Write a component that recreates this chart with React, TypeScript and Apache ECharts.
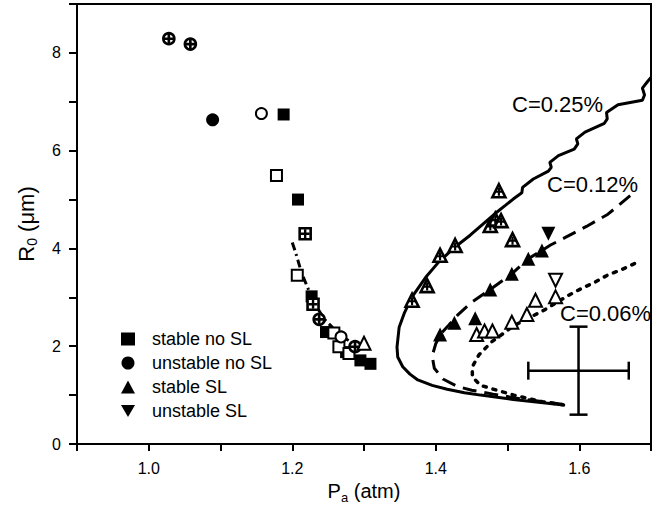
import React, { useEffect, useRef } from "react";
import * as echarts from "echarts";

// ---- data ----
const stableNoSL = [[1.188, 6.74], [1.208, 5.0], [1.227, 3.02], [1.247, 2.29], [1.275, 1.88], [1.295, 1.71], [1.309, 1.64]];
const stableNoSLOpen = [[1.178, 5.49], [1.207, 3.45], [1.258, 2.27], [1.265, 1.99], [1.279, 1.85]];
const stableNoSLCross = [[1.218, 4.3], [1.229, 2.86]];
const unstableNoSL = [[1.089, 6.63]];
const unstableNoSLOpen = [[1.157, 6.76], [1.268, 2.19]];
const unstableNoSLCross = [[1.028, 8.29], [1.058, 8.18], [1.2375, 2.55], [1.2875, 1.99]];
const stableSL = [[1.406, 2.24], [1.426, 2.48], [1.455, 2.57], [1.476, 3.16], [1.506, 3.48], [1.529, 3.79], [1.548, 3.96]];
const stableSLOpen = [[1.3, 2.06], [1.457, 2.24], [1.468, 2.31], [1.479, 2.31], [1.506, 2.49], [1.527, 2.65], [1.539, 2.94], [1.567, 3.01]];
const stableSLCross = [[1.367, 2.94], [1.388, 3.24], [1.406, 3.86], [1.427, 4.06], [1.476, 4.47], [1.483, 4.6], [1.491, 4.57], [1.488, 5.18], [1.507, 4.18]];
const unstableSL = [[1.557, 4.3]];
const unstableSLOpen = [[1.567, 3.35]];

const curve025 = [
  [1.7, 7.5], [1.695, 7.41], [1.688, 7.28], [1.691, 7.14], [1.688, 7.03], [1.654, 6.94], [1.638, 6.78], [1.639, 6.65], [1.635, 6.56],
  [1.608, 6.38], [1.596, 6.24], [1.598, 6.14], [1.593, 6.03], [1.571, 5.9], [1.559, 5.76], [1.561, 5.66], [1.557, 5.58],
  [1.536, 5.42], [1.521, 5.25], [1.52, 5.14], [1.508, 5.01], [1.497, 4.88], [1.485, 4.74], [1.469, 4.54], [1.448, 4.27],
  [1.427, 4.03], [1.404, 3.72], [1.386, 3.41], [1.367, 3.01], [1.356, 2.67], [1.349, 2.39], [1.346, 1.98], [1.347, 1.78],
  [1.354, 1.58], [1.364, 1.43], [1.375, 1.31], [1.395, 1.2], [1.416, 1.12], [1.44, 1.05], [1.4625, 1.0], [1.508, 0.91],
  [1.54, 0.86], [1.578, 0.8],
];
const curve012 = [
  [1.671, 5.08], [1.64, 4.7], [1.61, 4.45], [1.58, 4.22], [1.56, 4.07], [1.548, 3.96], [1.529, 3.79], [1.506, 3.48],
  [1.476, 3.16], [1.45, 2.9], [1.43, 2.63], [1.418, 2.43], [1.407, 2.25], [1.4, 2.05], [1.395, 1.8], [1.398, 1.55],
  [1.41, 1.33], [1.43, 1.18], [1.45, 1.1], [1.48, 1.02], [1.52, 0.92], [1.578, 0.81],
];
const curve006 = [
  [1.677, 3.69], [1.658, 3.56], [1.64, 3.46], [1.622, 3.31], [1.603, 3.18], [1.585, 3.04], [1.55, 2.73], [1.51, 2.43],
  [1.478, 2.09], [1.46, 1.82], [1.451, 1.58], [1.451, 1.37], [1.4625, 1.2], [1.485, 1.1], [1.509, 1.0], [1.55, 0.86],
  [1.578, 0.8],
];
const curveLeft = [[1.2, 4.12], [1.204, 3.95], [1.208, 3.75], [1.213, 3.5], [1.22, 3.25], [1.23, 2.9], [1.245, 2.55], [1.265, 2.25], [1.29, 2.0]];

// error bar: [x, y, xErr, yErr]
const errorBar = [[1.599, 1.5, 0.07, 0.9]];

const curveLabels = ["C=0.25%", "C=0.12%", "C=0.06%"];
const legendNames = ["stable no SL", "unstable no SL", "stable SL", "unstable SL"];

const FONT = "Liberation Sans, Arial, Helvetica, sans-serif";
const PLUS = "path://M4.4,0H7.6V12H4.4Z M0,4.4H12V7.6H0Z";
const INV_TRI = "path://M0,0L2,0L1,1.732Z";

function scatter(name: string, data: number[][], symbol: string, size: number, open: boolean, rotate = 0): any {
  return {
    type: "scatter",
    name,
    data,
    symbol,
    symbolSize: size,
    symbolRotate: rotate,
    z: 5,
    itemStyle: open
      ? { color: "#fff", borderColor: "#000", borderWidth: 2, opacity: 1 }
      : { color: "#000", opacity: 1 },
    emphasis: { disabled: true },
  };
}
function crossed(name: string, data: number[][], symbol: string, size: number): any {
  return {
    type: "scatter",
    name,
    data,
    symbol,
    symbolSize: size,
    z: 5,
    itemStyle: { color: "#fff", borderColor: "#000", borderWidth: 2.6, opacity: 1 },
    emphasis: { disabled: true },
  };
}
function plus(data: number[][], size: number, dy = 0): any {
  return {
    type: "scatter",
    name: "_plus",
    data,
    symbol: PLUS,
    symbolSize: size,
    symbolOffset: [0, dy],
    z: 6,
    itemStyle: { color: "#000", opacity: 1 },
    emphasis: { disabled: true },
  };
}

export default function App() {
  const ref = useRef<HTMLDivElement>(null);
  useEffect(() => {
    document.body.style.margin = "0";
    const chart = echarts.init(ref.current!, null, { renderer: "svg" });
    const option: any = {
      animation: false,
      backgroundColor: "#fff",
      textStyle: { fontFamily: FONT },
      grid: { left: 77, right: 13, top: 4, bottom: 74, show: true, borderColor: "#000", borderWidth: 2 },
      legend: {
        data: [
          { name: legendNames[0], icon: "rect" },
          { name: legendNames[1], icon: "circle" },
          { name: legendNames[2], icon: "triangle" },
          { name: legendNames[3], icon: INV_TRI },
        ],
        orient: "vertical",
        left: 116,
        top: 325,
        itemWidth: 14,
        itemHeight: 13,
        itemGap: 6,
        itemStyle: { opacity: 1, color: "#000" },
        textStyle: { fontSize: 18, color: "#000", fontFamily: FONT, padding: [0, 0, 0, 12] },
        selectedMode: false,
      },
      xAxis: {
        type: "value",
        min: 0.9,
        max: 1.7,
        interval: 0.1,
        name: "{a|P}{b|a}{a| (atm)}",
        nameLocation: "middle",
        nameGap: 34,
        nameTextStyle: {
          rich: {
            a: { fontSize: 20, lineHeight: 26, fontFamily: FONT, color: "#000" },
            b: { fontSize: 13, lineHeight: 13, verticalAlign: "bottom", fontFamily: FONT, color: "#000" },
          },
        },
        axisLine: { onZero: false, lineStyle: { color: "#000", width: 2 } },
        axisTick: { length: 7, lineStyle: { color: "#000", width: 2 } },
        axisLabel: {
          margin: 16,
          fontSize: 16,
          color: "#000",
          fontFamily: FONT,
          formatter: (v: number) => (Math.round(v * 10) % 2 === 0 ? v.toFixed(1) : ""),
        },
        splitLine: { show: false },
      },
      yAxis: {
        type: "value",
        min: 0,
        max: 9,
        interval: 1,
        name: "{a|R}{b|0}{a| (μm)}",
        nameLocation: "middle",
        nameGap: 38,
        nameTextStyle: {
          rich: {
            a: { fontSize: 22, lineHeight: 26, fontFamily: FONT, color: "#000" },
            b: { fontSize: 14, lineHeight: 14, verticalAlign: "bottom", fontFamily: FONT, color: "#000" },
          },
        },
        axisLine: { onZero: false, lineStyle: { color: "#000", width: 2 } },
        axisTick: { length: 8, lineStyle: { color: "#000", width: 2 } },
        axisLabel: {
          margin: 16,
          fontSize: 16,
          color: "#000",
          fontFamily: FONT,
          formatter: (v: number) => (Math.round(v) % 2 === 0 && v < 9 ? String(Math.round(v)) : ""),
        },
        splitLine: { show: false },
      },
      graphic: [
        { type: "text", left: 512, top: 93, style: { text: curveLabels[0], fontSize: 22, fontFamily: FONT, fill: "#000" } },
        { type: "text", left: 547, top: 173, style: { text: curveLabels[1], fontSize: 22, fontFamily: FONT, fill: "#000" } },
        { type: "text", left: 560, top: 302, style: { text: curveLabels[2], fontSize: 22, fontFamily: FONT, fill: "#000" } },
      ],
      series: [
        { type: "line", data: curve025, symbol: "none", z: 2, lineStyle: { color: "#000", width: 3 } },
        { type: "line", data: curve012, symbol: "none", z: 2, lineStyle: { color: "#000", width: 3, type: [14, 8] } },
        { type: "line", data: curve006, symbol: "none", z: 2, lineStyle: { color: "#000", width: 3.5, type: [3, 7], cap: "round" } },
        { type: "line", data: curveLeft, symbol: "none", z: 2, lineStyle: { color: "#000", width: 3, type: [8, 4, 2, 4] } },
        {
          type: "custom",
          data: errorBar,
          z: 3,
          renderItem: (_p: any, api: any) => {
            const x = api.value(0), y = api.value(1), ex = api.value(2), ey = api.value(3);
            const l = api.coord([x - ex, y]);
            const r = api.coord([x + ex, y]);
            const t = api.coord([x, y + ey]);
            const b = api.coord([x, y - ey]);
            const cap = 9;
            const st = { stroke: "#000", lineWidth: 2.5 };
            const ln = (x1: number, y1: number, x2: number, y2: number) => ({ type: "line", shape: { x1, y1, x2, y2 }, style: st });
            return {
              type: "group",
              children: [
                ln(l[0], l[1], r[0], r[1]),
                ln(t[0], t[1], b[0], b[1]),
                ln(l[0], l[1] - cap, l[0], l[1] + cap),
                ln(r[0], r[1] - cap, r[0], r[1] + cap),
                ln(t[0] - cap, t[1], t[0] + cap, t[1]),
                ln(b[0] - cap, b[1], b[0] + cap, b[1]),
              ],
            };
          },
        },
        scatter(legendNames[0], stableNoSL, "rect", 12, false),
        scatter("_sqOpen", stableNoSLOpen, "rect", 11, true),
        crossed("_sqCross", stableNoSLCross, "rect", 11),
        plus(stableNoSLCross, 9),
        scatter(legendNames[1], unstableNoSL, "circle", 13, false),
        scatter("_cOpen", unstableNoSLOpen, "circle", 11, true),
        crossed("_cCross", unstableNoSLCross, "circle", 11),
        plus(unstableNoSLCross, 10),
        scatter(legendNames[2], stableSL, "triangle", 14, false),
        scatter("_tOpen", stableSLOpen, "triangle", 13, true),
        crossed("_tCross", stableSLCross, "triangle", 13),
        plus(stableSLCross, 8, 1),
        scatter(legendNames[3], unstableSL, "triangle", 14, false, 180),
        scatter("_itOpen", unstableSLOpen, "triangle", 13, true, 180),
      ],
    };
    chart.setOption(option);
    return () => chart.dispose();
  }, []);
  return <div ref={ref} style={{ width: 664, height: 518 }} />;
}
